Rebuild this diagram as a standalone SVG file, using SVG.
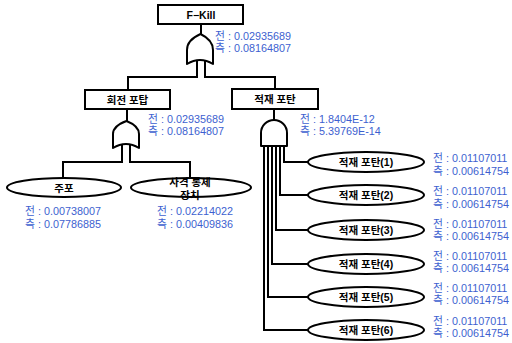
<svg xmlns="http://www.w3.org/2000/svg" width="512" height="343" viewBox="0 0 512 343">
<style>
.box{fill:#fff;stroke:#000;stroke-width:2}
.gate{fill:#fff;stroke:#000;stroke-width:2;stroke-linejoin:round}
.ell{fill:#fff;stroke:#000;stroke-width:2}
.ln{fill:none;stroke:#000;stroke-width:2}
.lbl{font-family:"Liberation Sans","Noto Sans CJK KR",sans-serif;font-size:10.5px;font-weight:bold;fill:#000;text-anchor:middle;dominant-baseline:central}
.val{font-family:"Liberation Sans","Noto Sans CJK KR",sans-serif;font-size:10.8px;fill:#3d5fd0;dominant-baseline:central}
</style>
<rect width="512" height="343" fill="#fff"/>
<g id="connectors">
<path class="ln" d="M201,24 V35"/>
<path class="ln" d="M197,58 V77 H128 V90"/>
<path class="ln" d="M205,58 V77 H275 V89"/>
<path class="ln" d="M127,109 V122"/>
<path class="ln" d="M122,142 V162 H63 V178"/>
<path class="ln" d="M130,142 V162 H190 V178"/>
<path class="ln" d="M274,109 V120"/>
<path class="ln" d="M284,146 V162 H308"/>
<path class="ln" d="M280,146 V195 H308"/>
<path class="ln" d="M276,146 V230 H308"/>
<path class="ln" d="M272,146 V264 H308"/>
<path class="ln" d="M268,146 V297 H308"/>
<path class="ln" d="M264,146 V330 H308"/>
</g>
<g id="fkill">
<rect class="box" x="158" y="5" width="85" height="19"/>
<text class="lbl" x="201" y="14.5">F−Kill</text>
</g>
<g id="gate-top">
<path class="gate" d="M187,64 L187,50 Q187,40 200.5,34 Q213,40 213,50 L213,64 Q200,56 187,64 Z"/>
<text class="val" x="215" y="36">전 : 0.02935689</text>
<text class="val" x="215" y="48">측 : 0.08164807</text>
</g>
<g id="rotation">
<rect class="box" x="85" y="90" width="85" height="19"/>
<text class="lbl" x="127.5" y="99.5">회전 포탑</text>
</g>
<g id="gate-rotation">
<path class="gate" d="M113,148 L113,134 Q113,126 126.5,121 Q139,126 139,134 L139,148 Q126,140 113,148 Z"/>
<text class="val" x="148" y="118.5">전 : 0.02935689</text>
<text class="val" x="148" y="130.5">측 : 0.08164807</text>
</g>
<g id="loading">
<rect class="box" x="232" y="89" width="86" height="20"/>
<text class="lbl" x="275" y="99">적재 포탄</text>
</g>
<g id="gate-loading">
<path class="gate" d="M261,146 L261,133 A13,13 0 0 1 287,133 L287,146 Z"/>
<text class="val" x="300" y="119">전 : 1.8404E-12</text>
<text class="val" x="300" y="131">측 : 5.39769E-14</text>
</g>
<g id="main-gun">
<ellipse class="ell" cx="64" cy="187.5" rx="57" ry="9.5"/>
<text class="lbl" x="64" y="187.5">주포</text>
<text class="val" x="25" y="211">전 : 0.00738007</text>
<text class="val" x="25" y="224">측 : 0.07786885</text>
</g>
<g id="fire-control">
<ellipse class="ell" cx="191" cy="187.5" rx="60" ry="9.5"/>
<text class="lbl" x="190" y="182">사격 통제</text>
<text class="lbl" x="190" y="195">장치</text>
<text class="val" x="157" y="211">전 : 0.02214022</text>
<text class="val" x="157" y="224">측 : 0.00409836</text>
</g>
<g id="load1">
<ellipse class="ell" cx="366" cy="162" rx="58" ry="10"/>
<text class="lbl" x="366" y="162">적재 포탄(1)</text>
<text class="val" x="433" y="158">전 : 0.01107011</text>
<text class="val" x="433" y="171">측 : 0.00614754</text>
</g>
<g id="load2">
<ellipse class="ell" cx="366" cy="195" rx="58" ry="10"/>
<text class="lbl" x="366" y="195">적재 포탄(2)</text>
<text class="val" x="433" y="191">전 : 0.01107011</text>
<text class="val" x="433" y="204">측 : 0.00614754</text>
</g>
<g id="load3">
<ellipse class="ell" cx="366" cy="230" rx="58" ry="10"/>
<text class="lbl" x="366" y="230">적재 포탄(3)</text>
<text class="val" x="433" y="224">전 : 0.01107011</text>
<text class="val" x="433" y="236">측 : 0.00614754</text>
</g>
<g id="load4">
<ellipse class="ell" cx="366" cy="264" rx="58" ry="10"/>
<text class="lbl" x="366" y="264">적재 포탄(4)</text>
<text class="val" x="433" y="256">전 : 0.01107011</text>
<text class="val" x="433" y="268">측 : 0.00614754</text>
</g>
<g id="load5">
<ellipse class="ell" cx="366" cy="297" rx="58" ry="10"/>
<text class="lbl" x="366" y="297">적재 포탄(5)</text>
<text class="val" x="433" y="288">전 : 0.01107011</text>
<text class="val" x="433" y="300">측 : 0.00614754</text>
</g>
<g id="load6">
<ellipse class="ell" cx="366" cy="330" rx="58" ry="10"/>
<text class="lbl" x="366" y="330">적재 포탄(6)</text>
<text class="val" x="433" y="321">전 : 0.01107011</text>
<text class="val" x="433" y="333">측 : 0.00614754</text>
</g>
</svg>
